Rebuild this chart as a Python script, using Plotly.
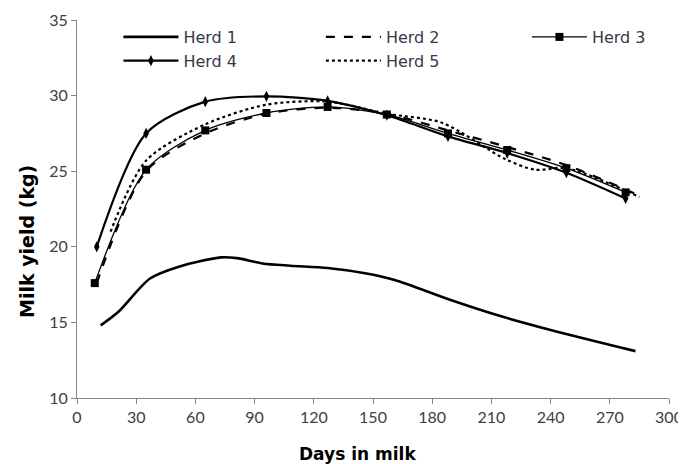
import plotly.graph_objects as go

# ---- data ----
herd1_days = [12, 21, 37, 52, 73, 81, 94, 108, 127, 146, 161, 189, 215, 240, 283]
herd1_yield = [14.8, 15.7, 17.9, 18.7, 19.3, 19.25, 18.9, 18.75, 18.6, 18.25, 17.8, 16.5, 15.4, 14.5, 13.1]

herd2_days = [10, 35, 65, 96, 127, 157, 188, 218, 248, 283]
herd2_yield = [17.6, 25.0, 27.5, 28.8, 29.2, 28.8, 27.7, 26.6, 25.4, 23.5]

herd3_days = [9, 35, 65, 96, 127, 157, 188, 218, 248, 278]
herd3_yield = [17.6, 25.1, 27.7, 28.85, 29.25, 28.75, 27.5, 26.4, 25.2, 23.6]

herd4_days = [10, 35, 65, 96, 127, 157, 188, 218, 248, 278]
herd4_yield = [20.0, 27.5, 29.6, 29.95, 29.65, 28.7, 27.3, 26.2, 24.9, 23.2]

herd5_days = [17, 35, 65, 96, 127, 157, 185, 217, 232, 248, 285]
herd5_yield = [21.0, 25.7, 28.1, 29.4, 29.6, 28.8, 28.2, 25.8, 25.1, 25.2, 23.3]

x_ticks = [0, 30, 60, 90, 120, 150, 180, 210, 240, 270, 300]
y_ticks = [10, 15, 20, 25, 30, 35]

TICK_FONT = "Lato, 'Open Sans', sans-serif"
TEXT_FONT = "'DejaVu Sans', Verdana, sans-serif"
TXT = "#404040"

fig = go.Figure()
fig.add_trace(go.Scatter(x=herd1_days, y=herd1_yield, name="Herd 1", mode="lines",
                         line=dict(color="black", width=2.6, shape="spline", smoothing=0.8),
                         legend="legend"))
fig.add_trace(go.Scatter(x=herd4_days, y=herd4_yield, name="Herd 4", mode="lines+markers",
                         line=dict(color="black", width=2.2, shape="spline", smoothing=0.8),
                         marker=dict(symbol="diamond-tall", size=8, color="black"),
                         legend="legend"))
fig.add_trace(go.Scatter(x=herd2_days, y=herd2_yield, name="Herd 2", mode="lines",
                         line=dict(color="black", width=2.2, dash="dash", shape="spline", smoothing=0.8),
                         legend="legend2"))
fig.add_trace(go.Scatter(x=herd5_days, y=herd5_yield, name="Herd 5", mode="lines",
                         line=dict(color="black", width=2.2, dash="dot", shape="spline", smoothing=0.8),
                         legend="legend2"))
fig.add_trace(go.Scatter(x=herd3_days, y=herd3_yield, name="Herd 3", mode="lines+markers",
                         line=dict(color="black", width=1.3, shape="spline", smoothing=0.8),
                         marker=dict(symbol="square", size=8, color="black"),
                         legend="legend3"))

legend_common = dict(bgcolor="rgba(0,0,0,0)", font=dict(family=TEXT_FONT, size=16, color="#383848"),
                     orientation="v", xanchor="left", yanchor="top", y=1.0,
                     itemwidth=55, traceorder="normal")

axis_common = dict(showgrid=False, zeroline=False, automargin=False,
                   showline=True, linecolor="#868686", linewidth=1,
                   ticks="outside", ticklen=5, tickcolor="#868686",
                   ticklabeloverflow="allow",
                   tickfont=dict(family=TICK_FONT, size=16, color=TXT))

# the page body has an 8px margin, so the figure is drawn 8px smaller and shifted
fig.update_layout(
    width=678, height=456,
    margin=dict(l=69, r=17, t=12, b=66, autoexpand=False),
    paper_bgcolor="white", plot_bgcolor="white",
    showlegend=True,
    legend=dict(x=0.07, **legend_common),
    legend2=dict(x=0.412, **legend_common),
    legend3=dict(x=0.76, **legend_common),
    xaxis=dict(range=[0, 300], tickvals=x_ticks, **axis_common),
    yaxis=dict(range=[10, 35], tickvals=y_ticks, **axis_common),
    annotations=[
        dict(text="<b>Days in milk</b>", xref="paper", yref="paper",
             x=(357 - 77) / 592, y=-56 / 378, xanchor="center", yanchor="middle",
             showarrow=False, font=dict(family=TEXT_FONT, size=17, color="black")),
        dict(text="<b>Milk yield (kg)</b>", xref="paper", yref="paper",
             x=(27 - 77) / 592, y=(398 - 242) / 378, xanchor="center", yanchor="middle",
             textangle=-90, showarrow=False, font=dict(family=TEXT_FONT, size=19, color="black")),
    ],
)

fig.write_html("out.html")
